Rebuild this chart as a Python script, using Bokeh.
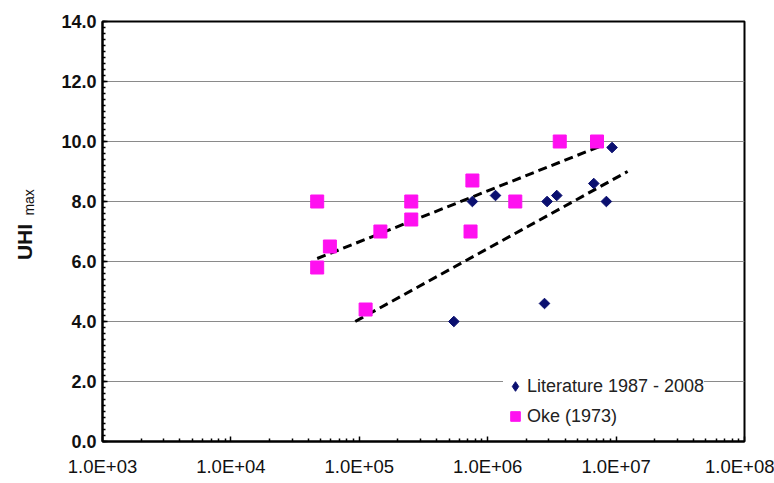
import numpy as np
from bokeh.plotting import figure
from bokeh.models import (FixedTicker, SingleIntervalTicker, CustomJSTickFormatter,
                          PrintfTickFormatter, Legend, LegendItem, Label, Range1d)
from bokeh.embed import file_html
from bokeh.resources import INLINE

# ---- data ----
lit_pop = [5.45e5, 7.6e5, 1.15e6, 2.9e6, 3.45e6, 2.77e6, 6.7e6, 8.4e6, 9.3e6]
lit_uhi = [4.0, 8.0, 8.2, 8.0, 8.2, 4.6, 8.6, 8.0, 9.8]

oke_pop = [4.7e4, 4.7e4, 5.9e4, 1.46e5, 2.54e5, 2.54e5, 1.12e5, 7.6e5, 7.35e5, 1.64e6, 3.64e6, 7.1e6]
oke_uhi = [8.0, 5.8, 6.5, 7.0, 8.0, 7.4, 4.4, 8.7, 7.0, 8.0, 10.0, 10.0]

# trend lines (end points of the fitted logarithmic lines)
oke_fit_pop = [4.7e4, 7.8e6]
oke_fit_uhi = [6.1, 9.87]
lit_fit_pop = [9.3e4, 1.23e7]
lit_fit_uhi = [4.0, 9.0]

x_ticks = [1e3, 1e4, 1e5, 1e6, 1e7, 1e8]
x_minor = [m * 10 ** e for e in range(3, 8) for m in range(2, 10)]

FONT = "Liberation Sans"

p = figure(width=774, height=483, x_axis_type="log",
           x_range=Range1d(1e3, 1e8), y_range=Range1d(0, 14),
           output_backend="svg", toolbar_location=None,
           min_border_left=102, min_border_right=30,
           min_border_top=21, min_border_bottom=42)

p.background_fill_color = "white"
p.border_fill_color = "white"
p.outline_line_color = "black"
p.outline_line_width = 2

# grid
p.xgrid.grid_line_color = None
p.ygrid.grid_line_color = "#8a8a8a"
p.ygrid.grid_line_width = 1

# axes
xa = p.xaxis[0]
xa.ticker = FixedTicker(ticks=x_ticks, minor_ticks=x_minor)
xa.formatter = CustomJSTickFormatter(code="""
const e = Math.round(Math.log10(tick));
return "1.0E+" + String(e).padStart(2, "0");
""")
ya = p.yaxis[0]
ya.ticker = SingleIntervalTicker(interval=2, num_minor_ticks=10)
ya.formatter = PrintfTickFormatter(format="%.1f")

for ax in (xa, ya):
    ax.axis_line_color = "black"
    ax.axis_line_width = 2
    ax.major_tick_line_color = "black"
    ax.minor_tick_line_color = "black"
    ax.major_tick_line_width = 1.5
    ax.minor_tick_line_width = 1.5
    ax.major_tick_out = 0
    ax.major_tick_in = 5
    ax.minor_tick_out = 0
    ax.minor_tick_in = 3
    ax.major_label_text_font = FONT
    ax.major_label_text_color = "#111111"

xa.major_label_text_font_size = "18.5px"
xa.major_label_standoff = 14
ya.major_label_text_font_size = "18px"
ya.major_label_text_font_style = "bold"
ya.major_label_standoff = 6

# trend lines
p.line(oke_fit_pop, oke_fit_uhi, line_color="black", line_width=3, line_dash="9 5")
p.line(lit_fit_pop, lit_fit_uhi, line_color="black", line_width=3, line_dash="9 5")

# points
r_oke = p.scatter(oke_pop, oke_uhi, marker="square", size=13,
                  fill_color="#FF10F0", line_color="#FF10F0")
r_lit = p.scatter(lit_pop, lit_uhi, marker="square", size=7.5, angle=np.pi / 4,
                  fill_color="#0B1070", line_color="#0B1070")

# legend-only renderer (diamond glyph for the legend key), hidden in the plot
r_lit_key = p.scatter(lit_pop, lit_uhi, marker="diamond",
                      fill_color="#0B1070", line_color="#0B1070", visible=False)

legend = Legend(items=[LegendItem(label="Literature 1987 - 2008", renderers=[r_lit_key]),
                       LegendItem(label="Oke (1973)", renderers=[r_oke])],
                location=(401, 13))
legend.border_line_color = None
legend.background_fill_color = "white"
legend.background_fill_alpha = 1.0
legend.padding = 2
legend.margin = 0
legend.glyph_width = 24
legend.glyph_height = 24
legend.label_height = 24
legend.label_standoff = 0
legend.spacing = 6
legend.label_text_font = FONT
legend.label_text_font_size = "18px"
legend.label_text_color = "#222222"
p.add_layout(legend, "center")

# y axis title with subscript (placed in the left side panel so it is not clipped)
p.add_layout(Label(x=246.9, y=6.65, text="UHI",
                   angle=np.pi / 2, text_align="center", text_baseline="middle",
                   text_font=FONT, text_font_size="21px", text_font_style="bold",
                   text_color="#111111"), "left")
p.add_layout(Label(x=267.6, y=7.97, text="max",
                   angle=np.pi / 2, text_align="center", text_baseline="middle",
                   text_font=FONT, text_font_size="14px",
                   text_color="#111111"), "left")

open("out.html", "w").write(file_html(p, INLINE))
